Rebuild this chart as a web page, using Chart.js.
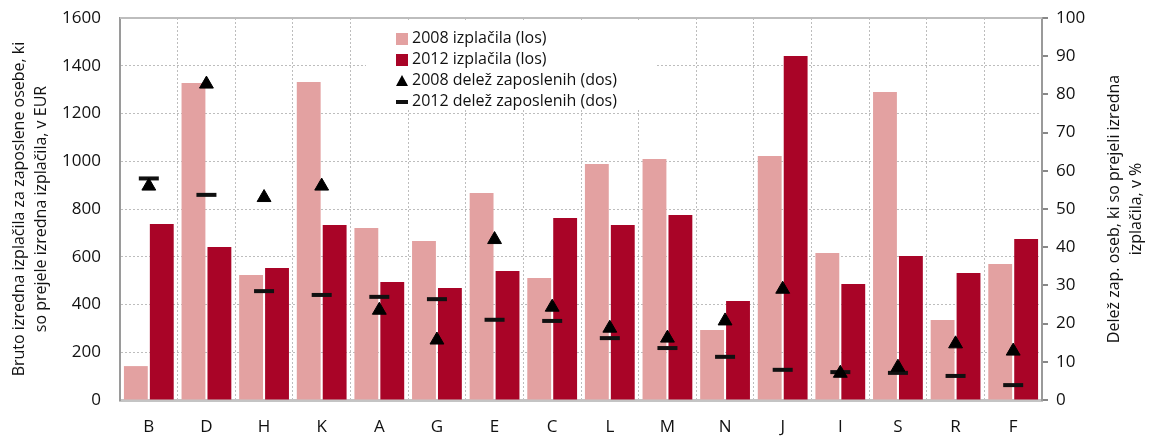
<!DOCTYPE html>
<html>
<head>
<meta charset="utf-8">
<script src="https://cdn.jsdelivr.net/npm/chart.js@4.4.1/dist/chart.umd.min.js"></script>
<style>
    html, body { margin: 0; padding: 0; background: #fff; }
    #wrap { position: relative; width: 1149px; height: 437px; }
    #legend {
        position: absolute; left: 366px; top: 22px; width: 290px; height: 87px;
        background: #fff; font-family: 'Open Sans', sans-serif; font-size: 16px; color: #111;
    }
    .item { position: absolute; left: 30px; height: 21px; line-height: 21px; white-space: nowrap; }
    .mk { display: inline-block; vertical-align: middle; margin-right: 4px; }
</style>
</head>
<body>
<div id="wrap">
    <canvas id="chart" width="1149" height="437"></canvas>
    <div id="legend"></div>
</div>
<script>
// Data
const categories = ['B', 'D', 'H', 'K', 'A', 'G', 'E', 'C', 'L', 'M', 'N', 'J', 'I', 'S', 'R', 'F'];
const pay2008 = [142, 1328, 524, 1332, 720, 666, 867, 511, 988, 1009, 293, 1022, 616, 1290, 335, 570];
const pay2012 = [737, 641, 553, 733, 494, 469, 540, 762, 733, 775, 415, 1441, 486, 603, 532, 674];
const share2008 = [56, 82.7, 53, 56, 23.5, 15.7, 42, 24.3, 18.8, 16.2, 20.7, 29, 7, 8.6, 14.7, 12.8];
const share2012 = [58, 53.7, 28.5, 27.5, 27, 26.4, 21, 20.7, 16.2, 13.6, 11.3, 7.9, 7.3, 7.1, 6.3, 3.9];
const leftTicks = [0, 200, 400, 600, 800, 1000, 1200, 1400, 1600];
const rightTicks = [0, 10, 20, 30, 40, 50, 60, 70, 80, 90, 100];

const labels = {
    pay2008: '2008 izplačila (los)',
    pay2012: '2012 izplačila (los)',
    share2008: '2008 delež zaposlenih  (dos)',
    share2012: '2012 delež zaposlenih  (dos)'
};
const leftTitle = ['Bruto izredna izplačila za zaposlene osebe, ki', 'so prejele izredna izplačila, v EUR'];
const rightTitle = ['Delež zap. oseb, ki so prejeli izredna', 'izplačila, v %'];

const colLight = '#E3A1A1';
const colDark = '#A90427';
const font = "'Open Sans', sans-serif";

// Frame line on top + rotated axis titles
const framePlugin = {
    id: 'frame',
    afterDraw(chart) {
        const { ctx, chartArea: a } = chart;
        ctx.save();
        ctx.strokeStyle = '#bdbdbd';
        ctx.lineWidth = 2;
        ctx.beginPath();
        ctx.moveTo(a.left, a.top);
        ctx.lineTo(a.right, a.top);
        ctx.stroke();

        ctx.fillStyle = '#111';
        ctx.font = '16px ' + font;
        ctx.textAlign = 'center';
        ctx.textBaseline = 'middle';
        const midY = (a.top + a.bottom) / 2;
        [[19, leftTitle], [a.right + 72, rightTitle]].forEach(([x, lines]) => {
            lines.forEach((line, i) => {
                ctx.save();
                ctx.translate(x + i * 22, midY);
                ctx.rotate(-Math.PI / 2);
                ctx.fillText(line, 0, 0);
                ctx.restore();
            });
        });
        ctx.restore();
    }
};

// keep tick labels from pushing the plot area around
function noPad(s) {
    s.paddingTop = 0;
    s.paddingBottom = 0;
}

new Chart(document.getElementById('chart').getContext('2d'), {
    data: {
        labels: categories,
        datasets: [
            {
                type: 'line', label: labels.share2008, data: share2008, yAxisID: 'y1',
                showLine: false, pointStyle: 'triangle', pointRadius: 8,
                backgroundColor: '#000', borderColor: '#000', borderWidth: 1, order: 0
            },
            {
                type: 'line', label: labels.share2012, data: share2012, yAxisID: 'y1',
                showLine: false, pointStyle: 'line', pointRadius: 10,
                backgroundColor: '#111', borderColor: '#111', borderWidth: 4, order: 0
            },
            {
                type: 'bar', label: labels.pay2008, data: pay2008, yAxisID: 'y',
                backgroundColor: colLight, barPercentage: 0.92, categoryPercentage: 0.9, order: 1
            },
            {
                type: 'bar', label: labels.pay2012, data: pay2012, yAxisID: 'y',
                backgroundColor: colDark, barPercentage: 0.92, categoryPercentage: 0.9, order: 1
            }
        ]
    },
    options: {
        responsive: false,
        animation: false,
        layout: { padding: { top: 18, left: 0, right: 0, bottom: 0 } },
        plugins: { legend: { display: false }, tooltip: { enabled: false } },
        scales: {
            x: {
                afterFit: (s) => { s.height = 37; s.paddingLeft = 0; s.paddingRight = 0; },
                grid: { offset: true, color: '#bdbdbd', lineWidth: 1, drawTicks: false },
                border: { display: true, color: '#c4c4c4', width: 3, dash: [2, 2] },
                ticks: { padding: 17, color: '#111', font: { family: font, size: 17 } }
            },
            y: {
                position: 'left',
                min: 0, max: 1600,
                afterBuildTicks: (s) => { s.ticks = leftTicks.map(v => ({ value: v })); },
                afterFit: (s) => { s.width = 120; noPad(s); },
                grid: { color: '#bdbdbd', lineWidth: 1, drawTicks: false },
                border: { display: true, color: '#9a9a9a', width: 2, dash: [2, 2] },
                ticks: { padding: 19, color: '#111', font: { family: font, size: 17 }, callback: (v) => String(v) }
            },
            y1: {
                position: 'right',
                min: 0, max: 100,
                afterBuildTicks: (s) => { s.ticks = rightTicks.map(v => ({ value: v })); },
                afterFit: (s) => { s.width = 107; noPad(s); },
                grid: { drawOnChartArea: false, drawTicks: true, tickLength: 6, color: '#888', lineWidth: 2 },
                border: { display: true, color: '#9a9a9a', width: 2 },
                ticks: { padding: 8, color: '#111', font: { family: font, size: 17 }, callback: (v) => String(v) }
            }
        }
    },
    plugins: [framePlugin]
});

// Legend overlay
const legendItems = [
    { text: labels.pay2008, mk: `<span class="mk" style="width:12px;height:12px;background:${colLight}"></span>` },
    { text: labels.pay2012, mk: `<span class="mk" style="width:12px;height:12px;background:${colDark}"></span>` },
    { text: labels.share2008, mk: '<span class="mk" style="width:0;height:0;border-left:6px solid transparent;border-right:6px solid transparent;border-bottom:11px solid #000"></span>' },
    { text: labels.share2012, mk: '<span class="mk" style="width:12px;height:4px;background:#111"></span>' }
];
document.getElementById('legend').innerHTML = legendItems.map((it, i) =>
    `<div class="item" style="top:${5 + i * 21}px">${it.mk}${it.text}</div>`
).join('');
</script>
</body>
</html>
